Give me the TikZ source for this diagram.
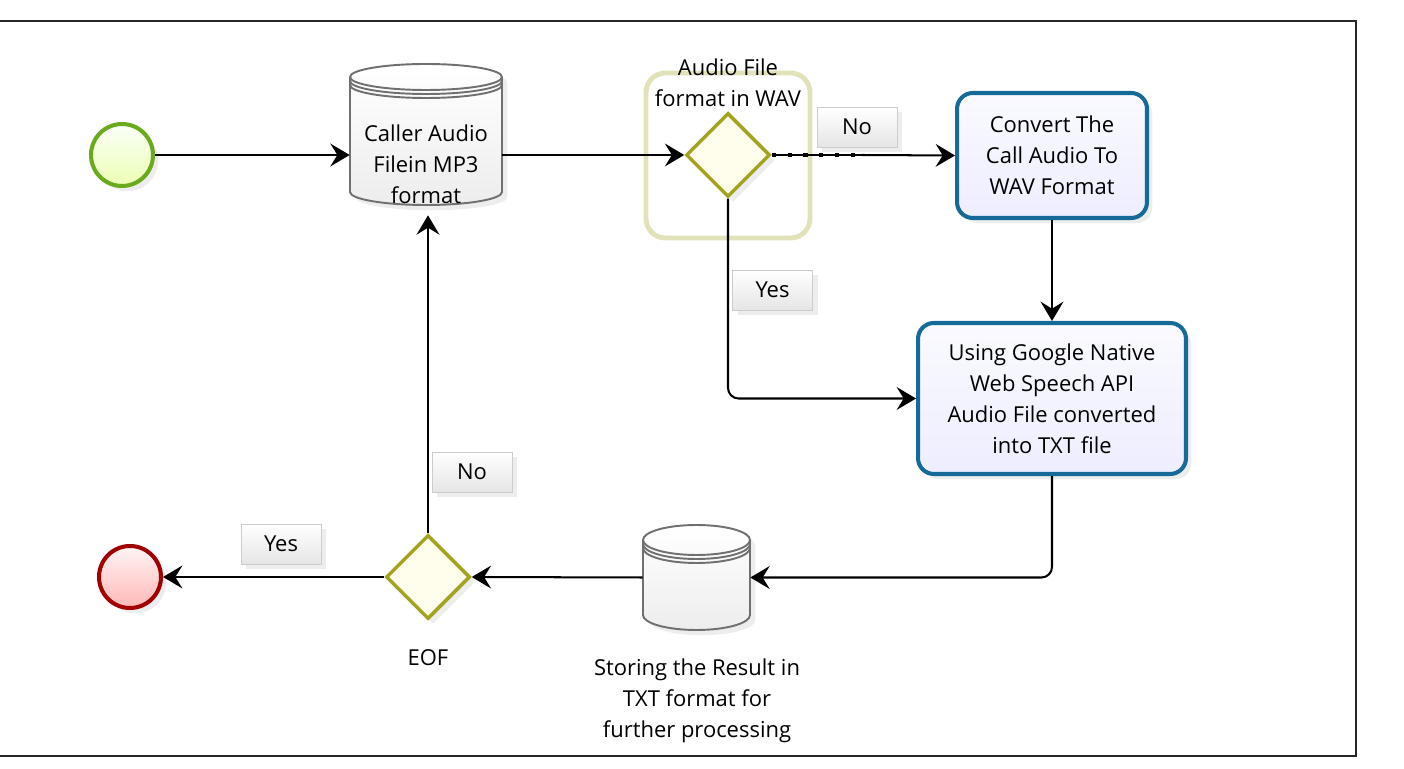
\documentclass[tikz,border=0pt]{standalone}
\usepackage{fontspec}
\setmainfont{Open Sans}
\usepackage{xcolor}
\usepackage{tikz}
\usetikzlibrary{arrows.meta,positioning,shadows,calc,shapes.geometric}

\definecolor{startgreen}{RGB}{106,171,30}
\definecolor{endred}{RGB}{160,0,0}
\definecolor{gateolive}{RGB}{163,163,32}
\definecolor{groupolive}{RGB}{226,226,186}
\definecolor{taskblue}{RGB}{22,106,152}
\definecolor{storegray}{RGB}{112,112,112}

\tikzset{
  storeline/.style={draw=storegray, line width=1.1pt},
  softshadow/.style={drop shadow={opacity=0.14, shadow xshift=3pt, shadow yshift=-3pt}},
}

% data store body: cx, cy, rx, half height, ry
\newcommand{\storeshape}[5]{%
  \draw[storeline, softshadow, top color=white, bottom color=gray!14]
    ({#1-#3},{#2+#4-#5}) -- ({#1-#3},{#2-#4+#5})
    arc[start angle=180, end angle=360, x radius=#3, y radius=#5]
    -- ({#1+#3},{#2+#4-#5})
    arc[start angle=0, end angle=180, x radius=#3, y radius=#5] -- cycle;
  \foreach \dy in {0,4,8}
    \draw[storeline] ({#1-#3},{#2+#4-#5-\dy})
      arc[start angle=180, end angle=360, x radius=#3, y radius=#5];
}

\begin{document}
\begin{tikzpicture}[
  x=0.02cm, y=0.02cm,
  txt/.style={font=\fontsize{12.5}{17.6}\selectfont, align=center},
  event/.style={circle, minimum size=1.24cm, line width=2.3pt, softshadow},
  gate/.style={diamond, aspect=1, inner sep=0pt, minimum width=1.68cm, minimum height=1.68cm,
    draw=gateolive, line width=2pt, fill=yellow!7, softshadow},
  groupbox/.style={draw=groupolive, line width=2.8pt, rounded corners=11pt},
  task/.style={txt, draw=taskblue, line width=2.3pt, rounded corners=9pt,
    top color=blue!2, bottom color=blue!7, softshadow},
  store/.style={txt, inner sep=0pt},
  flag/.style={txt, draw=gray!40, top color=white, bottom color=gray!20,
    minimum width=1.6cm, minimum height=0.8cm, inner sep=0pt, softshadow},
  arr/.style={-{Stealth[length=11pt, width=13pt, inset=4pt]}, line width=1.15pt},
]
  \useasboundingbox (0,0) rectangle (1404,768);
  \draw[line width=1.4pt, black!85] (-10,12) rectangle (1356,747);

  % Events
  \node[event, draw=startgreen, top color=green!2, bottom color=lime!30] (start) at (122,613) {};
  \node[event, draw=endred, top color=red!4, bottom color=red!28] (end) at (130,191) {};

  % Data stores
  \storeshape{426}{633.5}{76}{70.5}{13}
  \node[store, minimum width=3.04cm, minimum height=2.82cm,
    label={[txt, yshift=-0.6cm]center:{Caller Audio\\Filein MP3\\format}}] (cyl1) at (426,633.5) {};
  \storeshape{696.5}{190.5}{53.5}{52.5}{15}
  \node[store, minimum width=2.14cm, minimum height=2.1cm] (store) at (696.5,190.5) {};
  \node[txt] (storetxt) at (697,67) {Storing the Result in\\TXT format for\\further processing};

  % Gateways
  \node[groupbox, minimum width=3.28cm, minimum height=3.3cm] (grp) at (728,612.5) {};
  \node[gate] (wav) at (728,613) {};
  \node[txt] (wavtxt) at (728,685) {Audio File\\format in WAV};
  \node[gate] (eof) at (428,191) {};
  \node[txt] (eoftxt) at (428,110) {EOF};

  % Tasks
  \node[task, minimum width=3.8cm, minimum height=2.5cm] (conv) at (1052,612.5)
    {Convert The\\Call Audio To\\WAV Format};
  \node[task, minimum width=5.36cm, minimum height=3.02cm] (gsr) at (1052,369.5)
    {Using Google Native\\Web Speech API\\Audio File converted\\into TXT file};

  % Flow
  \coordinate (nobrk) at (862,613);
  \draw[arr] (start.east) -- (start.east -| cyl1.west);
  \draw[arr] (cyl1.east |- wav.west) -- (wav.west);
  \draw[line width=1.15pt] (wav.east) -- (nobrk);
  \draw[line width=2.4pt, dash pattern=on 2.4pt off 6.6pt] (wav.east) -- (nobrk);
  \draw[arr] (nobrk) -- (conv.west);
  \draw[arr] (conv.south) -- (gsr.north);
  \draw[arr, rounded corners=6pt] (wav.south) |- (gsr.west);
  \draw[arr, rounded corners=6pt] (gsr.south) |- (store.east);
  \draw[arr] (store.west) -- (eof.east);
  \draw[arr] (eof.west) -- (end.east);
  \draw[arr, shorten >=0.2cm] (eof.north) -- (eof.north |- cyl1.south);

  % Flow labels
  \node[flag] (no1) at (857,641) {No};
  \node[flag] (yes1) at (772.5,478) {Yes};
  \node[flag] (no2) at (472,296) {No};
  \node[flag] (yes2) at (281,224) {Yes};
\end{tikzpicture}
\end{document}
